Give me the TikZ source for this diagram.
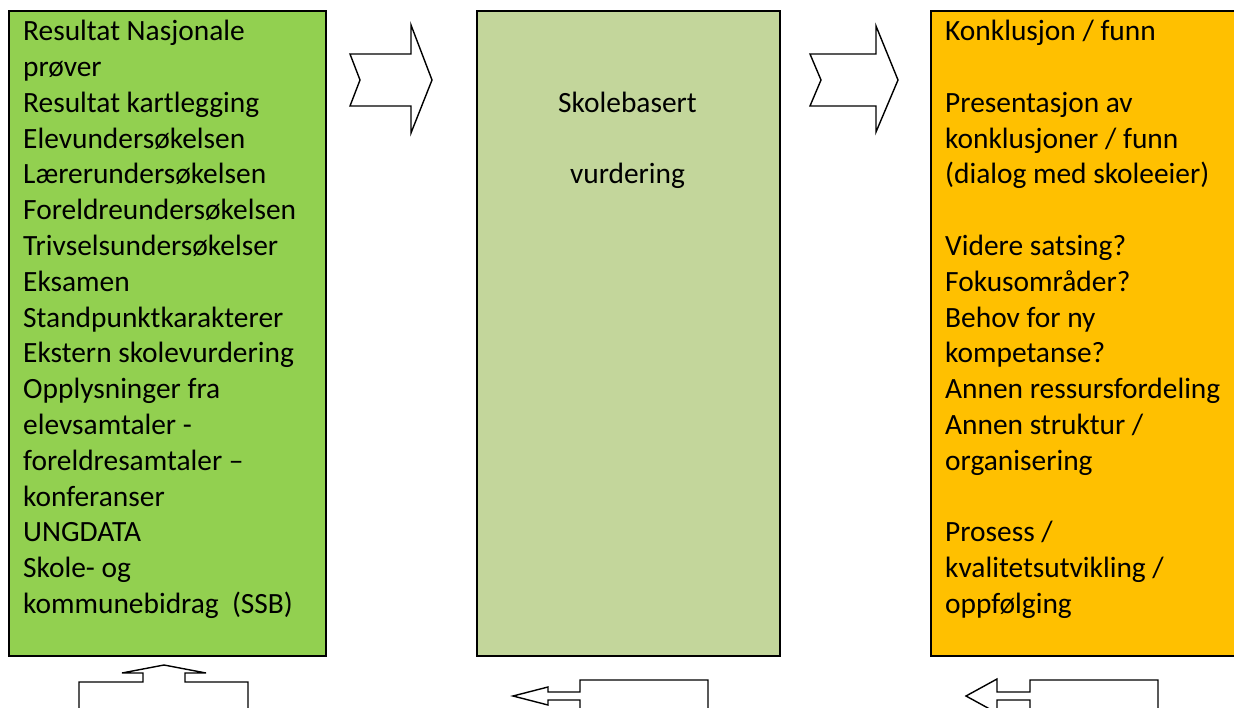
\documentclass[tikz,border=0pt]{standalone}
\usepackage{fontspec}
\setmainfont{Carlito}
\definecolor{boxgreen}{RGB}{146,208,80}
\definecolor{boxolive}{RGB}{195,214,155}
\definecolor{boxorange}{RGB}{255,192,0}
\begin{document}
\begin{tikzpicture}[x=1pt,y=-1pt,line join=miter]
\tikzset{
  panel/.style={draw=black, line width=2pt, inner sep=0pt, anchor=north west},
  txt/.style={align=left, inner sep=0pt, anchor=north west, font=\fontsize{29.4}{35.8}\selectfont},
  ctxt/.style={inner sep=0pt, anchor=base, font=\fontsize{29.4}{35.8}\selectfont},
  arrowshape/.style={draw=black, line width=1.4pt, fill=white}
}
\clip (0,0) rectangle (1234,708);
\fill[white] (0,0) rectangle (1234,708);
% panels
\node[panel, fill=boxgreen, minimum width=317pt, minimum height=645pt] (src) at (8,10) {};
\node[panel, fill=boxolive, minimum width=303pt, minimum height=645pt] (mid) at (476,10) {};
\node[panel, fill=boxorange, minimum width=320pt, minimum height=645pt] (res) at (930,10) {};
% texts
\node[txt] (srctext) at (23,15.5) {\strut Resultat Nasjonale\\prøver\\Resultat kartlegging\\Elevundersøkelsen\\Lærerundersøkelsen\\Foreldreundersøkelsen\\Trivselsundersøkelser\\Eksamen\\Standpunktkarakterer\\Ekstern skolevurdering\\Opplysninger fra\\elevsamtaler -\\foreldresamtaler –\\konferanser\\UNGDATA\\Skole- og\\kommunebidrag~ (SSB)};
\node[ctxt] (midtext1) at (627.5,112.2) {Skolebasert};
\node[ctxt] (midtext2) at (627.5,183.8) {vurdering};
\node[txt] (restext) at (945,15.5) {\strut Konklusjon / funn\\[35.8pt]Presentasjon av\\konklusjoner / funn\\(dialog med skoleeier)\\[35.8pt]Videre satsing?\\Fokusområder?\\Behov for ny\\kompetanse?\\Annen ressursfordeling\\Annen struktur /\\organisering\\[35.8pt]Prosess /\\kvalitetsutvikling /\\oppfølging};
% chevron arrows between panels
\draw[arrowshape] (350,54) -- (411,54) -- (411,25) -- (432,80) -- (411,133) -- (411,106) -- (350,106) -- (360,80) -- cycle;
\draw[arrowshape] (810,54) -- (876,54) -- (876,26) -- (898,80) -- (876,132) -- (876,106) -- (810,106) -- (821,80) -- cycle;
% callout arrows at the bottom
\draw[arrowshape] (79,725) -- (79,682) -- (143,682) -- (143,673) -- (122,673) -- (164,665) -- (206,673) -- (185,673) -- (185,682) -- (248,682) -- (248,725);
\draw[arrowshape] (708,725) -- (708,680) -- (580,680) -- (580,692) -- (548,692) -- (548,687) -- (513,696) -- (548,705) -- (548,700) -- (580,700) -- (580,725);
\draw[arrowshape] (1158,725) -- (1158,680) -- (1030,680) -- (1030,692) -- (997,692) -- (997,679) -- (966,696) -- (997,713) -- (997,700) -- (1030,700) -- (1030,725);
\end{tikzpicture}
\end{document}
